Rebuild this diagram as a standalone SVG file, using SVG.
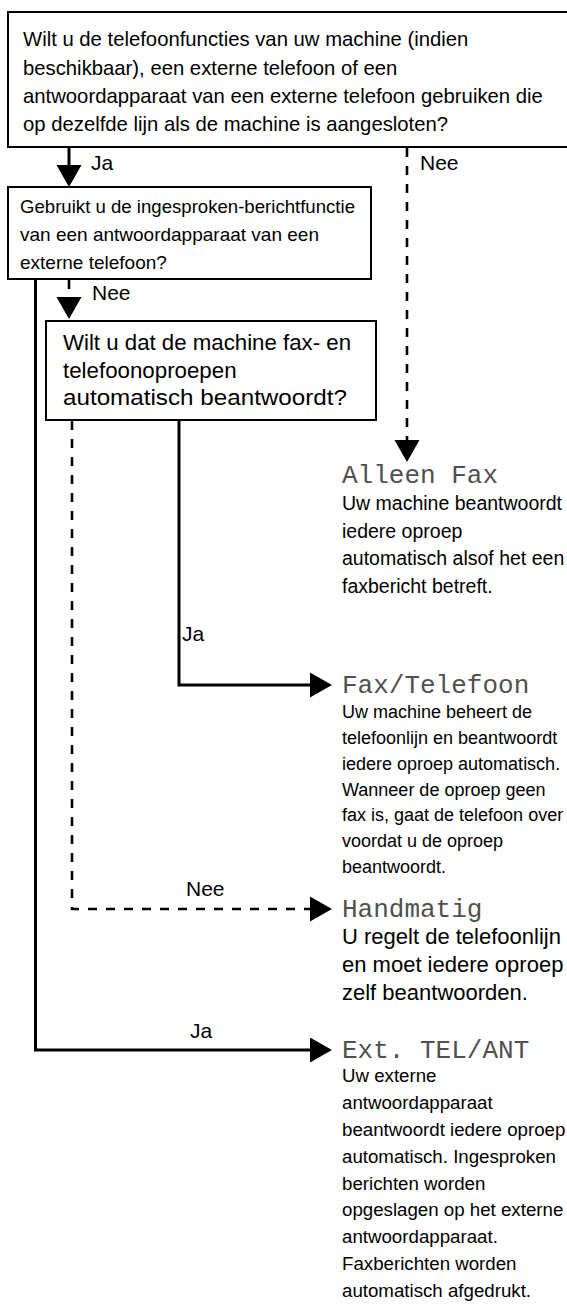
<svg xmlns="http://www.w3.org/2000/svg" width="567" height="1310" viewBox="0 0 567 1310">
<style>
.box{fill:#fff;stroke:#000;stroke-width:2}
.t{font-family:"Liberation Sans",Arial,sans-serif;fill:#000}
.lbl{font-family:"Liberation Sans",Arial,sans-serif;font-size:21px;fill:#000}
.hdr{font-family:"Liberation Mono","DejaVu Sans Mono",monospace;font-size:26px;fill:#505050}
.solid{fill:none;stroke:#000;stroke-width:3}
.dash{fill:none;stroke:#000;stroke-width:2.6;stroke-dasharray:9 9}
</style>
<defs>
<marker id="ah" markerUnits="userSpaceOnUse" markerWidth="24" markerHeight="26" refX="0" refY="12.5" orient="auto" viewBox="0 0 24 26">
<path d="M0,0 L22,12.5 L0,25 Z" fill="#000"/>
</marker>
</defs>
<rect width="567" height="1310" fill="#fff"/>

<g id="connectors">
<path class="solid" d="M69,148 V165" marker-end="url(#ah)"/>
<path class="dash" d="M407,148 V440" marker-end="url(#ah)"/>
<path class="dash" d="M69,280 V297" marker-end="url(#ah)"/>
<path class="solid" d="M35.5,280 V1050 H310" marker-end="url(#ah)"/>
<path class="solid" d="M179,421 V685 H310" marker-end="url(#ah)"/>
<path class="dash" d="M72,421 V909 H310" marker-end="url(#ah)"/>
<text class="lbl" x="91" y="170">Ja</text>
<text class="lbl" x="420" y="170">Nee</text>
<text class="lbl" x="92" y="300">Nee</text>
<text class="lbl" x="182" y="641">Ja</text>
<text class="lbl" x="186" y="896">Nee</text>
<text class="lbl" x="190" y="1038">Ja</text>
</g>

<g id="q1">
<rect class="box" x="8" y="12" width="562" height="135"/>
<text class="t" font-size="20.3">
<tspan x="23" y="46">Wilt u de telefoonfuncties van uw machine (indien</tspan>
<tspan x="23" y="74.5">beschikbaar), een externe telefoon of een</tspan>
<tspan x="23" y="103">antwoordapparaat van een externe telefoon gebruiken die</tspan>
<tspan x="23" y="131">op dezelfde lijn als de machine is aangesloten?</tspan>
</text>
</g>

<g id="q2">
<rect class="box" x="8" y="187" width="363" height="92"/>
<text class="t" font-size="19" x="20" y="213" textLength="335" lengthAdjust="spacingAndGlyphs">Gebruikt u de ingesproken-berichtfunctie</text>
<text class="t" font-size="19" x="20" y="241">van een antwoordapparaat van een</text>
<text class="t" font-size="19" x="20" y="269">externe telefoon?</text>
</g>

<g id="q3">
<rect class="box" x="46" y="321" width="330" height="99"/>
<text class="t" font-size="22.3" x="63" y="350" textLength="288" lengthAdjust="spacingAndGlyphs">Wilt u dat de machine fax- en</text>
<text class="t" font-size="22.3" x="63" y="378">telefoonoproepen</text>
<text class="t" font-size="22.3" x="63" y="405" textLength="284" lengthAdjust="spacingAndGlyphs">automatisch beantwoordt?</text>
</g>

<g id="alleen-fax">
<text class="hdr" x="342" y="483">Alleen Fax</text>
<text class="t" font-size="19.5">
<tspan x="342" y="510">Uw machine beantwoordt</tspan>
<tspan x="342" y="537.5">iedere oproep</tspan>
<tspan x="342" y="565">automatisch alsof het een</tspan>
<tspan x="342" y="592.5">faxbericht betreft.</tspan>
</text>
</g>

<g id="fax-telefoon">
<text class="hdr" x="342" y="693">Fax/Telefoon</text>
<text class="t" font-size="18">
<tspan x="342" y="718">Uw machine beheert de</tspan>
<tspan x="342" y="744">telefoonlijn en beantwoordt</tspan>
<tspan x="342" y="770">iedere oproep automatisch.</tspan>
<tspan x="342" y="795.5">Wanneer de oproep geen</tspan>
<tspan x="342" y="821">fax is, gaat de telefoon over</tspan>
<tspan x="342" y="847">voordat u de oproep</tspan>
<tspan x="342" y="873">beantwoordt.</tspan>
</text>
</g>

<g id="handmatig">
<text class="hdr" x="342" y="917">Handmatig</text>
<text class="t" font-size="22">
<tspan x="342" y="944">U regelt de telefoonlijn</tspan>
<tspan x="342" y="972">en moet iedere oproep</tspan>
<tspan x="342" y="1000">zelf beantwoorden.</tspan>
</text>
</g>

<g id="ext-tel-ant">
<text class="hdr" x="342" y="1058">Ext. TEL/ANT</text>
<text class="t" font-size="18.7">
<tspan x="342" y="1082">Uw externe</tspan>
<tspan x="342" y="1109">antwoordapparaat</tspan>
<tspan x="342" y="1136">beantwoordt iedere oproep</tspan>
<tspan x="342" y="1163">automatisch. Ingesproken</tspan>
<tspan x="342" y="1190">berichten worden</tspan>
<tspan x="342" y="1216">opgeslagen op het externe</tspan>
<tspan x="342" y="1243">antwoordapparaat.</tspan>
<tspan x="342" y="1270">Faxberichten worden</tspan>
<tspan x="342" y="1297">automatisch afgedrukt.</tspan>
</text>
</g>
</svg>
